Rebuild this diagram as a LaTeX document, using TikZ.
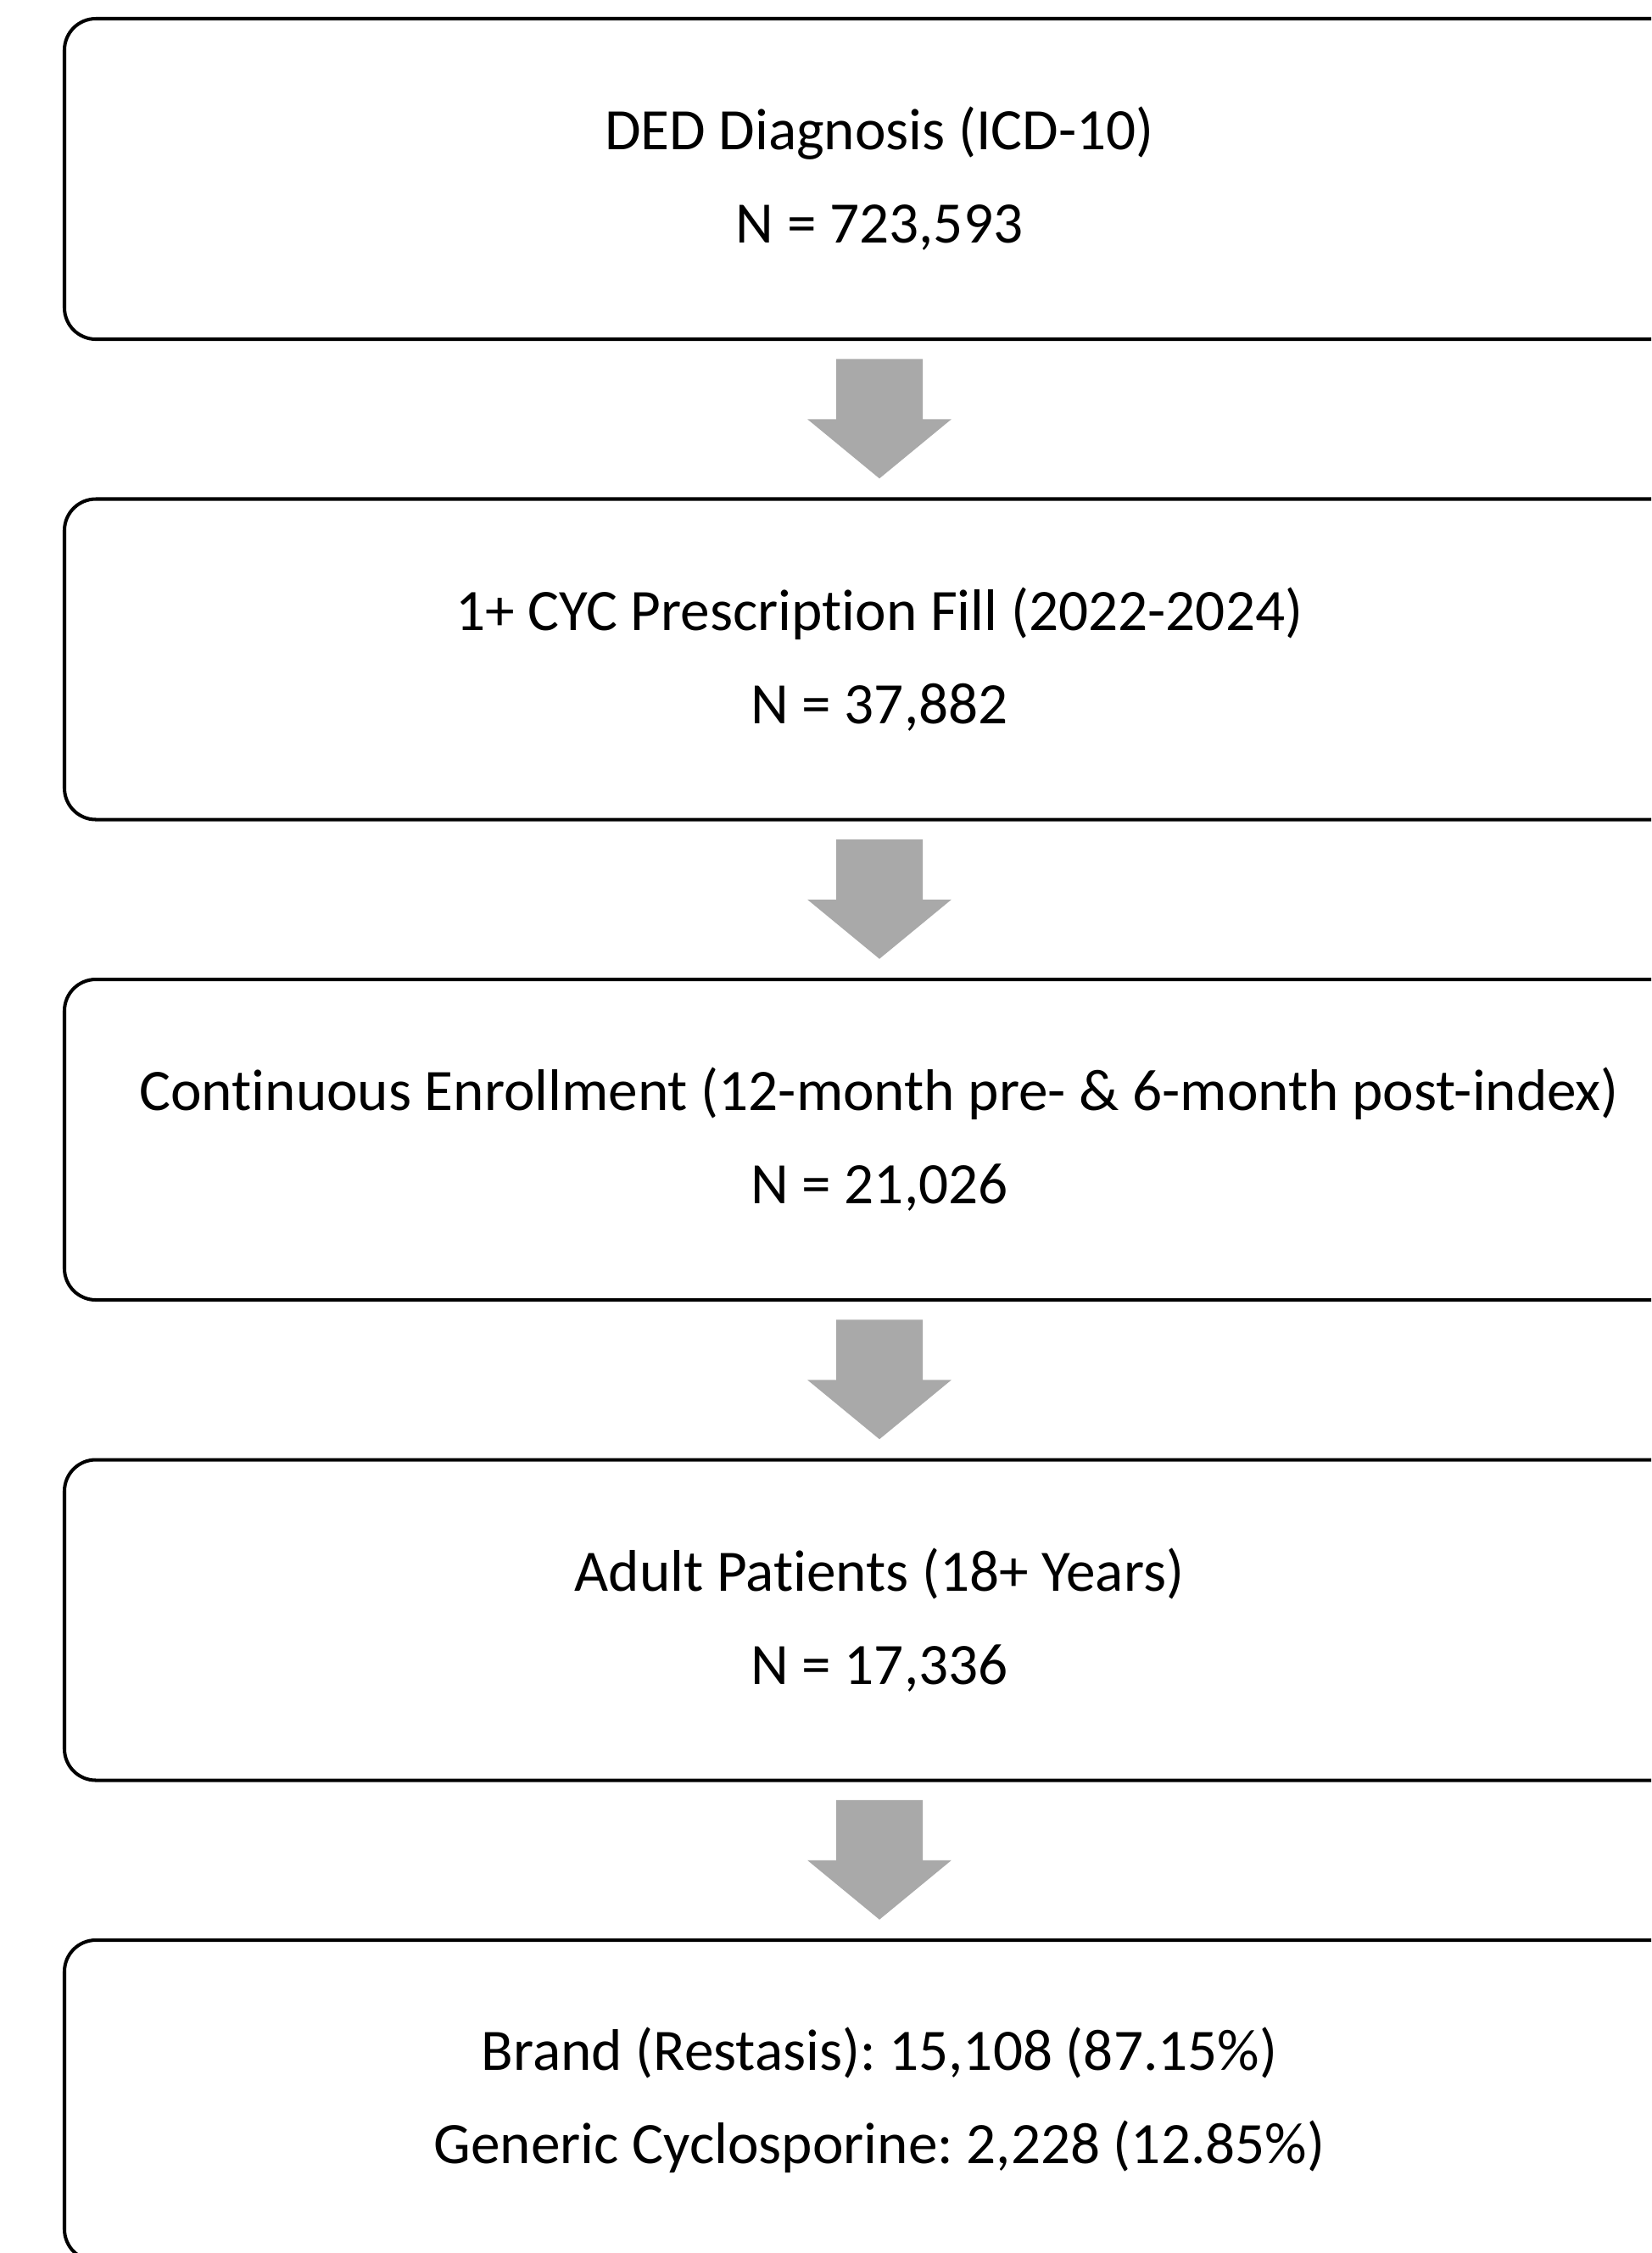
\documentclass[tikz,border=0pt]{standalone}
\usepackage{fontspec}
\setmainfont{Carlito}[Ligatures={NoCommon}]
\frenchspacing
\usetikzlibrary{positioning,calc}
\definecolor{arrowgray}{HTML}{A9A9A9}
\begin{document}
\begin{tikzpicture}[
    stagebox/.style={draw, line width=1.15pt, rounded corners=0.37cm, outer sep=0pt,
      minimum width=19.22cm, minimum height=3.78cm, align=center,
      font=\fontsize{19.7}{31.3}\selectfont},
    node distance=1.885cm]
    \useasboundingbox (0,0) rectangle (19.47,-26.57);
    \clip (0,0) rectangle (19.47,-26.57);
    \node[stagebox] (ded) at (10.37,-2.11) {DED Diagnosis (ICD-10)\\N = 723,593};
    \node[stagebox, below=of ded] (cyc) {1+ CYC Prescription Fill (2022-2024)\\N = 37,882};
    \node[stagebox, below=of cyc] (enrol) {Continuous Enrollment (12-month pre- \& 6-month post-index)\\N = 21,026};
    \node[stagebox, below=of enrol] (adult) {Adult Patients (18+ Years)\\N = 17,336};
    \node[stagebox, below=of adult] (brand) {Brand (Restasis): 15,108 (87.15\%)\\Generic Cyclosporine: 2,228 (12.85\%)};
    \foreach \a/\b in {ded/cyc, cyc/enrol, enrol/adult, adult/brand} {
      \path (\a.south) -- (\b.north) coordinate[midway] (mid);
      \fill[arrowgray] ($(mid)+(-0.51,0.71)$) -- ($(mid)+(0.51,0.71)$) -- ($(mid)+(0.51,0)$)
        -- ($(mid)+(0.85,0)$) -- ($(mid)+(0,-0.70)$) -- ($(mid)+(-0.85,0)$)
        -- ($(mid)+(-0.51,0)$) -- cycle;
    }
\end{tikzpicture}
\end{document}
